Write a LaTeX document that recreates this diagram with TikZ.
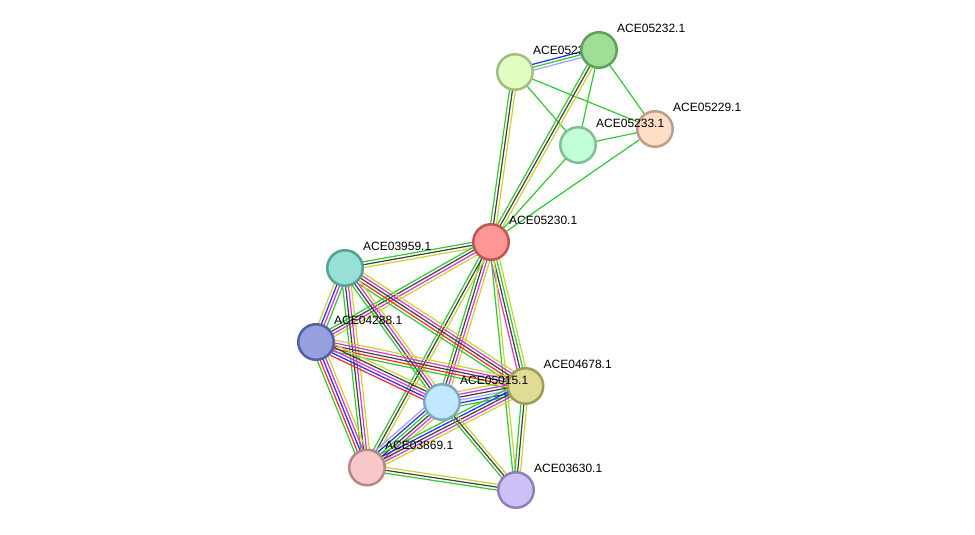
\documentclass[tikz,border=0pt]{standalone}
\usepackage{fontspec}
\setmainfont{Liberation Sans}
\usetikzlibrary{calc}
\pgfdeclarelayer{back}
\pgfdeclarelayer{bg}
\pgfdeclarelayer{fg}
\pgfsetlayers{back,bg,main,fg}
\definecolor{eg}{RGB}{50,200,50}
\definecolor{ek}{RGB}{64,64,64}
\definecolor{ey}{RGB}{200,212,50}
\definecolor{em}{RGB}{220,50,220}
\definecolor{er}{RGB}{255,40,40}
\definecolor{eb}{RGB}{40,40,255}
\definecolor{el}{RGB}{160,160,255}
\tikzset{
  prot/.style={circle,minimum size=35.5pt,inner sep=0pt,line width=2.5pt},
  lbltext/.style={anchor=west,inner sep=0pt,font=\fontsize{12}{14}\selectfont},
}
\newcommand{\sedge}[3]{%
  \foreach \ec [count=\ei] in {#3} {\xdef\EdgeN{\ei}}%
  \foreach \ec [count=\ei] in {#3} {%
    \pgfmathsetmacro\EdgeOff{(\ei-(\EdgeN+1)/2)*2.9}%
    \draw[line width=1.2pt,color=\ec] ($(#1.center)!\EdgeOff pt!90:(#2.center)$) -- ($(#2.center)!\EdgeOff pt!-90:(#1.center)$);%
  }%
}
\newcommand{\lbl}[3]{%
  \node[lbltext] (#1) at ([shift={(18,-22)}]#2.center) {#3};%
}
\begin{document}
\begin{tikzpicture}[x=1pt,y=-1pt]
\begin{pgfonlayer}{back}
\fill[white] (0,0) rectangle (975,535);
\end{pgfonlayer}
\useasboundingbox (0,0) rectangle (975,535);
% node u first, with its label (covered by 05232)
\node[prot,fill={rgb,255:red,224;green,255;blue,192},draw={rgb,255:red,160;green,190;blue,128}] (u) at (515,72) {};
\lbl{lu}{u}{ACE05231.1}
\node[prot,fill={rgb,255:red,160;green,222;blue,152},draw={rgb,255:red,96;green,160;blue,88}] (w) at (599,50) {};
\node[prot,fill={rgb,255:red,255;green,222;blue,200},draw={rgb,255:red,190;green,158;blue,136}] (p29) at (655,129) {};
\node[prot,fill={rgb,255:red,192;green,255;blue,216},draw={rgb,255:red,128;green,190;blue,152}] (p33) at (578,145) {};
\node[prot,fill={rgb,255:red,255;green,150;blue,150},draw={rgb,255:red,190;green,86;blue,86}] (p30) at (491,242) {};
\node[prot,fill={rgb,255:red,150;green,224;blue,216},draw={rgb,255:red,86;green,160;blue,152}] (p59) at (345,268) {};
\node[prot,fill={rgb,255:red,150;green,160;blue,224},draw={rgb,255:red,86;green,96;blue,160}] (p88) at (316,342) {};
\node[prot,fill={rgb,255:red,224;green,220;blue,152},draw={rgb,255:red,160;green,156;blue,88}] (p78) at (525.5,386) {};
\node[prot,fill={rgb,255:red,192;green,232;blue,255},draw={rgb,255:red,128;green,168;blue,192}] (p15) at (442,402) {};
\node[prot,fill={rgb,255:red,248;green,200;blue,200},draw={rgb,255:red,184;green,136;blue,136}] (p69) at (367,467.5) {};
\node[prot,fill={rgb,255:red,208;green,192;blue,248},draw={rgb,255:red,144;green,128;blue,184}] (p30b) at (516,490) {};
\begin{pgfonlayer}{bg}
\sedge{u}{w}{el,eg,eb}
\sedge{u}{p33}{eg}
\sedge{u}{p29}{eg}
\sedge{w}{p33}{eg}
\sedge{w}{p29}{eg}
\sedge{p33}{p29}{eg}
\sedge{p29}{p30}{eg}
\sedge{p33}{p30}{eg}
\sedge{u}{p30}{eg,ek,ey}
\sedge{w}{p30}{eg,ek,ey}
\sedge{p30}{p59}{eg,ek,ey}
\sedge{p30}{p88}{eg,ek,em,ey}
\sedge{p30}{p15}{eg,ek,em,ey}
\sedge{p30}{p69}{eg,ek,ey}
\sedge{p30}{p78}{em,ek,eg,ey}
\sedge{p30}{p30b}{eg,ey}
\sedge{p59}{p88}{ey,eb,em,eg}
\sedge{p59}{p78}{eg,er,ek,em,ey}
\sedge{p59}{p15}{eg,ek,em,ey}
\sedge{p59}{p69}{eg,ek,em,ey}
\sedge{p88}{p78}{eg,er,ek,em,ey}
\sedge{p88}{p15}{er,eb,em,ek,ey}
\sedge{p88}{p69}{eg,er,eb,em,ey}
\sedge{p15}{p78}{eg,eb,el,ek,em,ey}
\sedge{p15}{p69}{el,eb,eg,ek,em,ey}
\sedge{p78}{p69}{eg,eb,ek,em,ey}
\sedge{p78}{p30b}{eg,ek,ey}
\sedge{p15}{p30b}{eg,ek,ey}
\sedge{p69}{p30b}{eg,ek,ey}
\end{pgfonlayer}
\begin{pgfonlayer}{fg}
\lbl{lw}{w}{ACE05232.1}
\lbl{l29}{p29}{ACE05229.1}
\lbl{l33}{p33}{ACE05233.1}
\lbl{l30}{p30}{ACE05230.1}
\lbl{l59}{p59}{ACE03959.1}
\lbl{l88}{p88}{ACE04288.1}
\lbl{l78}{p78}{ACE04678.1}
\lbl{l15}{p15}{ACE05015.1}
\lbl{l69}{p69}{ACE03869.1}
\lbl{l30b}{p30b}{ACE03630.1}
\end{pgfonlayer}
\end{tikzpicture}
\end{document}
